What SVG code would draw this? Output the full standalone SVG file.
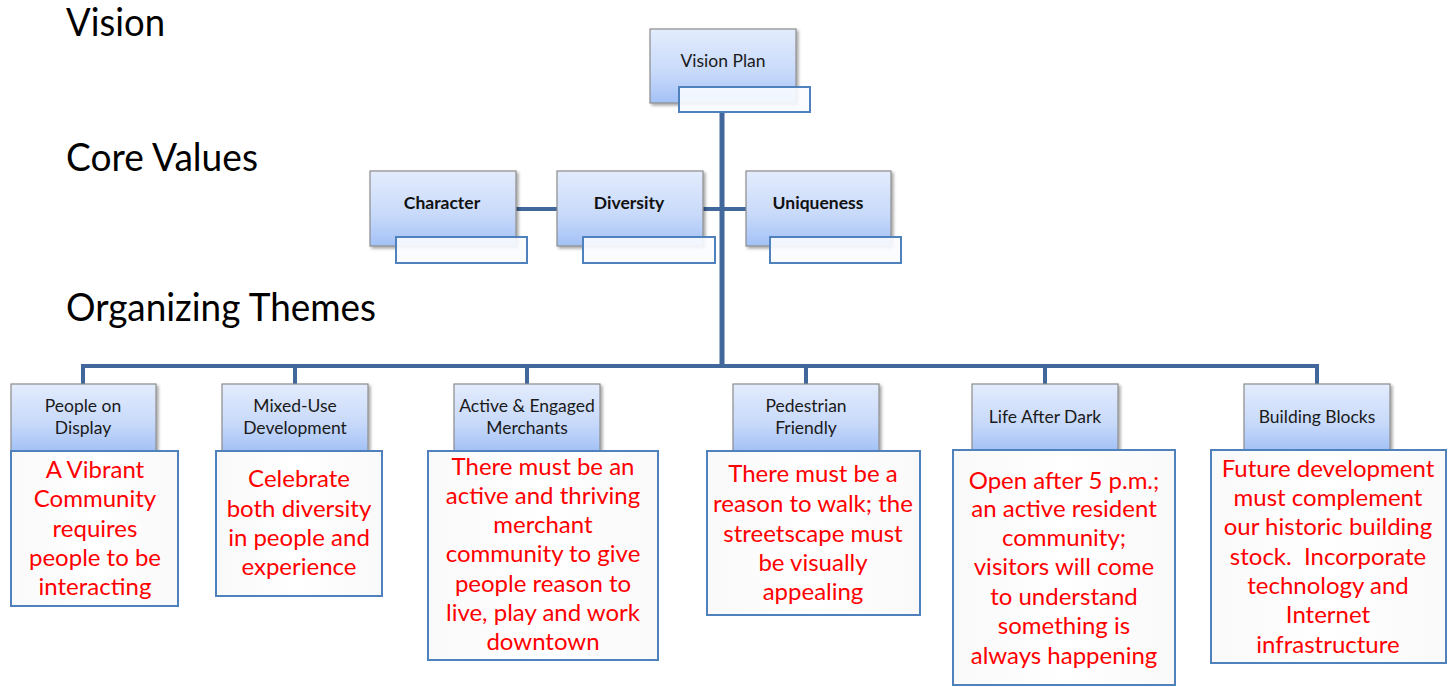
<svg xmlns="http://www.w3.org/2000/svg" width="1454" height="687" viewBox="0 0 1454 687">
<defs>
<linearGradient id="blueG" x1="0" y1="0" x2="0" y2="1">
<stop offset="0" stop-color="#e3ecfc"/>
<stop offset="0.6" stop-color="#c7d9fa"/>
<stop offset="1" stop-color="#a3c1f6"/>
</linearGradient>
<linearGradient id="whiteG" x1="0" y1="0" x2="1" y2="0">
<stop offset="0" stop-color="#f9f9f9"/>
<stop offset="0.5" stop-color="#ffffff"/>
<stop offset="1" stop-color="#f9f9f9"/>
</linearGradient>
<filter id="sh" x="-10%" y="-10%" width="130%" height="130%">
<feDropShadow dx="2" dy="2" stdDeviation="1.5" flood-color="#000" flood-opacity="0.35"/>
</filter>
</defs>
<style>
.hdr{font-family:Lato,"Liberation Sans",sans-serif;font-size:38px;fill:#000}
.bx{fill:url(#blueG);stroke:#8c8c8c;stroke-width:1.2;filter:url(#sh)}
.wb{fill:#fafcff;fill-opacity:0.9;stroke:#4f81bd;stroke-width:2}
.rb{fill:url(#whiteG);stroke:#4f81bd;stroke-width:2}
.t{font-family:Lato,"Liberation Sans",sans-serif;font-size:17.5px;fill:#1a1a1a;text-anchor:middle}
.tb{font-family:Lato,"Liberation Sans",sans-serif;font-size:17.5px;font-weight:bold;fill:#111;text-anchor:middle}
.r{font-family:Lato,"Liberation Sans",sans-serif;font-size:24px;fill:#ff0000;text-anchor:middle}
.ln{stroke:#41679b;fill:none}
</style>
<rect width="1454" height="687" fill="#ffffff"/>
<text class="hdr" x="66" y="36" textLength="99" lengthAdjust="spacingAndGlyphs">Vision</text>
<text class="hdr" x="66" y="171" textLength="192" lengthAdjust="spacingAndGlyphs">Core Values</text>
<text class="hdr" x="66" y="321" textLength="310" lengthAdjust="spacingAndGlyphs">Organizing Themes</text>
<g id="connectors">
<line class="ln" x1="722" y1="112" x2="722" y2="368" stroke-width="5"/>
<line class="ln" x1="516" y1="209" x2="557" y2="209" stroke-width="4"/>
<line class="ln" x1="703" y1="209" x2="746" y2="209" stroke-width="4"/>
<polyline class="ln" points="83,384 83,366 1317,366 1317,384" stroke-width="4"/>
<line class="ln" x1="295" y1="366" x2="295" y2="384" stroke-width="4"/>
<line class="ln" x1="527" y1="366" x2="527" y2="384" stroke-width="4"/>
<line class="ln" x1="806" y1="366" x2="806" y2="384" stroke-width="4"/>
<line class="ln" x1="1045" y1="366" x2="1045" y2="384" stroke-width="4"/>
</g>
<g id="vision-plan">
<rect class="bx" x="650" y="29" width="146" height="74"/>
<text class="t" x="723" y="67">Vision Plan</text>
<rect class="wb" x="679" y="87" width="131" height="25"/>
</g>
<g id="character">
<rect class="bx" x="370" y="171" width="146" height="75"/>
<text class="tb" x="442" y="209">Character</text>
<rect class="wb" x="396" y="237" width="131" height="26"/>
</g>
<g id="diversity">
<rect class="bx" x="557" y="171" width="146" height="75"/>
<text class="tb" x="629" y="209">Diversity</text>
<rect class="wb" x="583" y="237" width="132" height="26"/>
</g>
<g id="uniqueness">
<rect class="bx" x="746" y="171" width="145" height="75"/>
<text class="tb" x="818" y="209">Uniqueness</text>
<rect class="wb" x="770" y="237" width="131" height="26"/>
</g>
<g id="people-on-display">
<rect class="bx" x="11" y="384" width="145" height="67"/>
<text class="t" x="83" y="412">People on</text>
<text class="t" x="83" y="434">Display</text>
<rect class="rb" x="11" y="451" width="167" height="155"/>
<text class="r" x="95" y="478">A Vibrant</text>
<text class="r" x="95" y="507">Community</text>
<text class="r" x="95" y="537">requires</text>
<text class="r" x="95" y="566">people to be</text>
<text class="r" x="95" y="595">interacting</text>
</g>
<g id="mixed-use">
<rect class="bx" x="222" y="384" width="146" height="67"/>
<text class="t" x="295" y="412">Mixed-Use</text>
<text class="t" x="295" y="434">Development</text>
<rect class="rb" x="216" y="451" width="166" height="145"/>
<text class="r" x="299" y="487">Celebrate</text>
<text class="r" x="299" y="517">both diversity</text>
<text class="r" x="299" y="546">in people and</text>
<text class="r" x="299" y="575">experience</text>
</g>
<g id="active-engaged">
<rect class="bx" x="454" y="384" width="146" height="67"/>
<text class="t" x="527" y="412">Active &amp; Engaged</text>
<text class="t" x="527" y="434">Merchants</text>
<rect class="rb" x="428" y="451" width="230" height="209"/>
<text class="r" x="543" y="475">There must be an</text>
<text class="r" x="543" y="504">active and thriving</text>
<text class="r" x="543" y="533">merchant</text>
<text class="r" x="543" y="562">community to give</text>
<text class="r" x="543" y="592">people reason to</text>
<text class="r" x="543" y="621">live, play and work</text>
<text class="r" x="543" y="650">downtown</text>
</g>
<g id="pedestrian-friendly">
<rect class="bx" x="733" y="384" width="146" height="67"/>
<text class="t" x="806" y="412">Pedestrian</text>
<text class="t" x="806" y="434">Friendly</text>
<rect class="rb" x="707" y="451" width="213" height="164"/>
<text class="r" x="813" y="482">There must be a</text>
<text class="r" x="813" y="512">reason to walk; the</text>
<text class="r" x="813" y="542">streetscape must</text>
<text class="r" x="813" y="571">be visually</text>
<text class="r" x="813" y="600">appealing</text>
</g>
<g id="life-after-dark">
<rect class="bx" x="972" y="384" width="146" height="67"/>
<text class="t" x="1045" y="423">Life After Dark</text>
<rect class="rb" x="953" y="450" width="222" height="235"/>
<text class="r" x="1064" y="489">Open after 5 p.m.;</text>
<text class="r" x="1064" y="517">an active resident</text>
<text class="r" x="1064" y="546">community;</text>
<text class="r" x="1064" y="575">visitors will come</text>
<text class="r" x="1064" y="605">to understand</text>
<text class="r" x="1064" y="634">something is</text>
<text class="r" x="1064" y="664">always happening</text>
</g>
<g id="building-blocks">
<rect class="bx" x="1244" y="384" width="146" height="67"/>
<text class="t" x="1317" y="423">Building Blocks</text>
<rect class="rb" x="1211" y="450" width="235" height="213"/>
<text class="r" x="1328" y="477">Future development</text>
<text class="r" x="1328" y="506">must complement</text>
<text class="r" x="1328" y="535">our historic building</text>
<text class="r" x="1328" y="565">stock.&#160; Incorporate</text>
<text class="r" x="1328" y="594">technology and</text>
<text class="r" x="1328" y="623">Internet</text>
<text class="r" x="1328" y="653">infrastructure</text>
</g>
</svg>
